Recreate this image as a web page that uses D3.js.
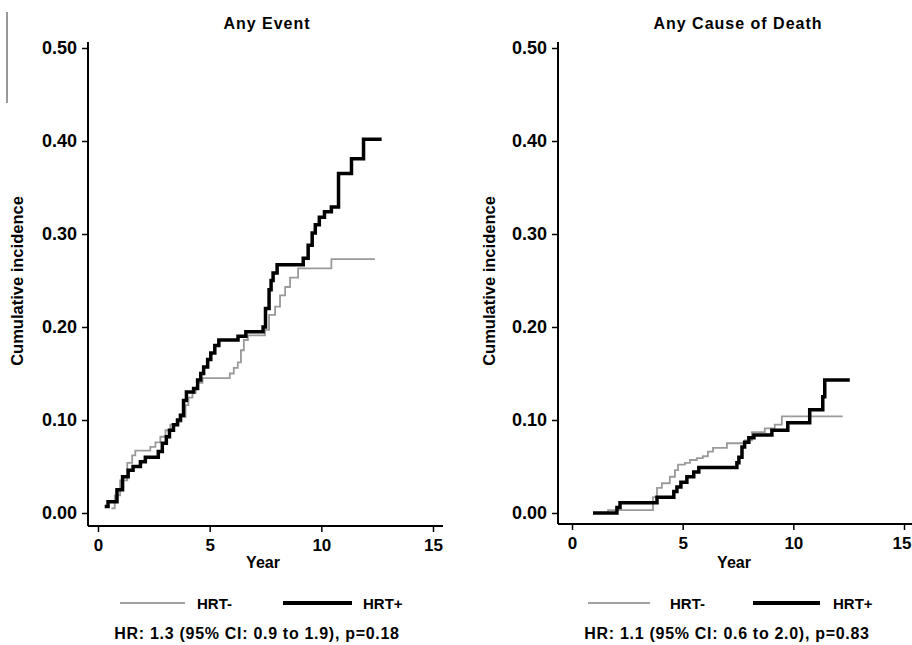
<!DOCTYPE html>
<html>
<head>
<meta charset="utf-8">
<script src="https://cdn.jsdelivr.net/npm/d3@7"></script>
<style>
  body { margin: 0; background: #fff; }
  text { font-family: "Liberation Sans", Arial, sans-serif; fill: #000; }
</style>
</head>
<body>
<svg id="chart" width="912" height="645"></svg>
<script>
// Trục và nhãn
const xTicks = [0, 5, 10, 15];
const yTicks = [0, 0.1, 0.2, 0.3, 0.4, 0.5];
const titles = ["Any Event", "Any Cause of Death"];
const hrLabels = ["HR: 1.3 (95% CI: 0.9 to 1.9), p=0.18", "HR: 1.1 (95% CI: 0.6 to 2.0), p=0.83"];
const legendLabels = ["HRT-", "HRT+"];

// Any Event, HRT-
const eventMinusT = [0.6, 0.75, 0.99, 1.31, 1.53, 1.67, 2.34, 2.57, 2.79, 3.02, 3.24, 3.6, 3.74, 3.92, 4.05, 4.23, 4.37, 4.46, 4.68, 5.9, 6.08, 6.26, 6.4, 6.53, 6.71, 7.48, 7.66, 7.93, 8.15, 8.38, 8.6, 8.96, 10.45, 12.4];
const eventMinusV = [0.005, 0.019, 0.035, 0.054, 0.062, 0.067, 0.071, 0.076, 0.082, 0.089, 0.095, 0.098, 0.103, 0.116, 0.124, 0.129, 0.134, 0.14, 0.145, 0.15, 0.156, 0.162, 0.175, 0.186, 0.191, 0.197, 0.213, 0.222, 0.234, 0.243, 0.253, 0.263, 0.273, 0.273];

// Any Event, HRT+
const eventPlusT = [0.3, 0.45, 0.85, 1.1, 1.35, 1.57, 1.9, 2.12, 2.7, 2.88, 3.06, 3.2, 3.38, 3.56, 3.69, 3.83, 3.96, 4.28, 4.46, 4.6, 4.73, 4.91, 5.05, 5.23, 5.41, 6.27, 6.62, 7.39, 7.5, 7.66, 7.75, 7.84, 8.02, 9.19, 9.41, 9.59, 9.73, 9.91, 10.14, 10.45, 10.77, 11.35, 11.89, 12.7];
const eventPlusV = [0.007, 0.012, 0.025, 0.039, 0.046, 0.05, 0.055, 0.06, 0.066, 0.075, 0.082, 0.089, 0.095, 0.1, 0.105, 0.121, 0.13, 0.134, 0.143, 0.15, 0.157, 0.165, 0.172, 0.18, 0.186, 0.19, 0.195, 0.2, 0.22, 0.24, 0.25, 0.258, 0.267, 0.274, 0.288, 0.301, 0.31, 0.318, 0.324, 0.329, 0.365, 0.381, 0.402, 0.402];

// Any Cause of Death, HRT-
const deathMinusT = [1.4, 1.63, 3.66, 3.84, 4.06, 4.42, 4.65, 4.79, 5.1, 5.33, 5.64, 5.91, 6.14, 6.37, 7.0, 7.81, 8.13, 8.71, 9.16, 9.48, 12.23];
const deathMinusV = [0.0, 0.003, 0.017, 0.027, 0.032, 0.039, 0.046, 0.052, 0.054, 0.057, 0.059, 0.061, 0.066, 0.07, 0.075, 0.078, 0.087, 0.091, 0.095, 0.104, 0.104];

// Any Cause of Death, HRT+
const deathPlusT = [0.95, 2.03, 2.17, 3.84, 4.6, 4.74, 4.92, 5.19, 5.5, 5.73, 7.45, 7.54, 7.68, 7.8, 7.99, 8.22, 9.03, 9.75, 10.74, 11.33, 11.42, 12.55];
const deathPlusV = [0.0, 0.006, 0.011, 0.017, 0.023, 0.028, 0.033, 0.039, 0.044, 0.049, 0.054, 0.06, 0.071, 0.076, 0.081, 0.084, 0.089, 0.097, 0.111, 0.125, 0.143, 0.143];

const zip = (t, v) => t.map((d, i) => ({ t: d, v: v[i] }));

// Bố cục hai khung
const panels = [
  { title: titles[0], hr: hrLabels[0], minus: zip(eventMinusT, eventMinusV), plus: zip(eventPlusT, eventPlusV),
    axisX: 88, x0: 98, x15: 433, axisY: 526, xEnd: 443, cx: 267, ylabX: 18,
    leg: { g1: 120, g2: 185, t1: 197, b1: 283, b2: 352, t2: 363 }, hrX: 257 },
  { title: titles[1], hr: hrLabels[1], minus: zip(deathMinusT, deathMinusV), plus: zip(deathPlusT, deathPlusV),
    axisX: 558, x0: 572, x15: 904, axisY: 524, xEnd: 912, cx: 738, ylabX: 490,
    leg: { g1: 588, g2: 650, t1: 670, b1: 753, b2: 820, t2: 833 }, hrX: 727 }
];

const svg = d3.select("#chart");
const font = "'Liberation Sans', Arial, sans-serif";

// đường viền mảnh bên trái
svg.append("line").attr("x1", 7).attr("x2", 7).attr("y1", 12).attr("y2", 103)
   .attr("stroke", "#333").attr("stroke-width", 1);

panels.forEach(p => {
  const g = svg.append("g");

  const x = d3.scaleLinear().domain([0, 15]).range([p.x0, p.x15]);
  const y = d3.scaleLinear().domain([0, 0.5]).range([513, 48]);

  // Trục Y
  const ya = g.append("g")
    .attr("transform", `translate(${p.axisX},0)`)
    .call(d3.axisLeft(y).tickValues(yTicks).tickFormat(d3.format(".2f")).tickSize(6).tickPadding(5));
  ya.select(".domain").remove();
  ya.selectAll("line").attr("stroke", "#000").attr("stroke-width", 1.5);
  ya.selectAll("text").attr("font-size", 18).attr("font-weight", "bold").attr("font-family", font);
  g.append("line").attr("x1", p.axisX).attr("x2", p.axisX).attr("y1", 42).attr("y2", p.axisY)
    .attr("stroke", "#000").attr("stroke-width", 2);

  // Trục X
  const xa = g.append("g")
    .attr("transform", `translate(0,${p.axisY})`)
    .call(d3.axisBottom(x).tickValues(xTicks).tickFormat(d3.format("d")).tickSize(6).tickPadding(7));
  xa.select(".domain").remove();
  xa.selectAll("line").attr("stroke", "#000").attr("stroke-width", 1.5);
  xa.selectAll("text").attr("font-size", 17).attr("font-weight", "bold").attr("font-family", font);
  // nhãn cuối không tràn mép
  xa.selectAll(".tick").filter(d => x(d) + 10 > 912).select("text")
    .attr("text-anchor", "end").attr("x", 912 - p.x15 - 1);
  g.append("line").attr("x1", p.axisX).attr("x2", p.xEnd).attr("y1", p.axisY).attr("y2", p.axisY)
    .attr("stroke", "#000").attr("stroke-width", 2);

  // Tiêu đề và nhãn trục
  g.append("text").attr("x", p.cx).attr("y", 29).attr("text-anchor", "middle")
    .attr("font-size", 16).attr("font-weight", "bold").attr("letter-spacing", 1).text(p.title);
  g.append("text").attr("x", p.cx - 4).attr("y", 568).attr("text-anchor", "middle")
    .attr("font-size", 16).attr("font-weight", "bold").text("Year");
  g.append("text").attr("transform", `translate(${p.ylabX + 5},281) rotate(-90)`)
    .attr("text-anchor", "middle").attr("font-size", 16.5).attr("font-weight", "bold")
    .text("Cumulative incidence");

  // Đường bậc thang
  const line = d3.line().x(d => x(d.t)).y(d => y(d.v)).curve(d3.curveStepAfter);
  g.append("path").datum(p.minus).attr("d", line)
    .attr("fill", "none").attr("stroke", "#9a9a9a").attr("stroke-width", 1.8);
  g.append("path").datum(p.plus).attr("d", line)
    .attr("fill", "none").attr("stroke", "#000").attr("stroke-width", 3.5);

  // Chú giải
  const L = p.leg;
  g.append("line").attr("x1", L.g1).attr("x2", L.g2).attr("y1", 603).attr("y2", 603)
    .attr("stroke", "#a0a0a0").attr("stroke-width", 2);
  g.append("text").attr("x", L.t1).attr("y", 609).attr("font-size", 15).attr("font-weight", "bold")
    .text(legendLabels[0]);
  g.append("line").attr("x1", L.b1).attr("x2", L.b2).attr("y1", 603).attr("y2", 603)
    .attr("stroke", "#000").attr("stroke-width", 4);
  g.append("text").attr("x", L.t2).attr("y", 609).attr("font-size", 15).attr("font-weight", "bold")
    .text(legendLabels[1]);

  g.append("text").attr("x", p.hrX).attr("y", 639).attr("text-anchor", "middle")
    .attr("font-size", 16).attr("font-weight", "bold").attr("letter-spacing", 0.7).text(p.hr);
});
</script>
</body>
</html>
